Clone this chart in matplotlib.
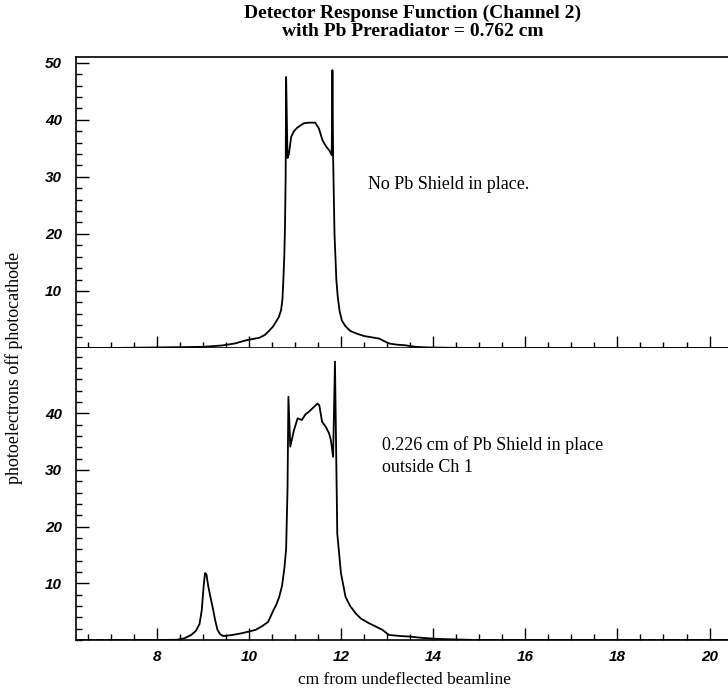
import numpy as np
import matplotlib
matplotlib.use("Agg")
import matplotlib.pyplot as plt
from matplotlib.ticker import MultipleLocator

# top panel: no Pb shield
top_x = [6.25, 7.0, 7.5, 8.0, 8.5, 9.0, 9.43, 9.7, 9.94, 10.1, 10.23, 10.35, 10.45, 10.52,
         10.59, 10.65, 10.7, 10.73, 10.75, 10.77, 10.785, 10.80, 10.81, 10.84, 10.87, 10.92,
         10.98, 11.05, 11.12, 11.2, 11.31, 11.44, 11.52, 11.6, 11.68, 11.75, 11.80, 11.815,
         11.83, 11.86, 11.9, 11.93, 11.97, 12.02, 12.1, 12.2, 12.35, 12.5, 12.65, 12.83,
         13.04, 13.2, 13.4, 13.62, 13.9, 14.3, 15.0, 16.0, 18.0, 20.4]
top_y = [0.0, 0.0, 0.05, 0.1, 0.15, 0.2, 0.45, 0.8, 1.35, 1.6, 1.8, 2.3, 3.1, 3.7,
         4.6, 5.4, 6.6, 8.5, 11.9, 16.0, 21.0, 30.0, 47.5, 33.3, 34.0, 37.0,
         38.0, 38.6, 39.0, 39.4, 39.5, 39.5, 38.5, 36.4, 35.3, 34.6, 33.8, 48.7,
         33.5, 20.0, 12.0, 9.0, 6.5, 4.8, 3.8, 3.0, 2.5, 2.1, 1.9, 1.65,
         0.8, 0.6, 0.47, 0.2, 0.1, 0.05, 0.0, 0.0, 0.0, 0.0]

# bottom panel: 0.226 cm Pb shield
bot_x = [6.25, 7.0, 8.0, 8.45, 8.6, 8.75, 8.85, 8.93, 8.98, 9.02, 9.05, 9.08, 9.12, 9.17,
         9.22, 9.27, 9.32, 9.38, 9.45, 9.65, 9.85, 10.0, 10.15, 10.3, 10.42, 10.52, 10.6,
         10.66, 10.72, 10.77, 10.81, 10.84, 10.86, 10.9, 10.98, 11.06, 11.15, 11.23, 11.31,
         11.4, 11.49, 11.53, 11.59, 11.67, 11.74, 11.78, 11.83, 11.87, 11.92, 12.0, 12.1,
         12.2, 12.32, 12.43, 12.6, 12.75, 12.9, 13.04, 13.3, 13.5, 13.8, 14.1, 14.5, 15.0,
         16.0, 18.0, 20.4]
bot_y = [0.0, 0.0, 0.0, 0.05, 0.3, 0.9, 1.6, 2.8, 5.3, 9.5, 11.8, 11.6, 9.5, 7.5,
         5.6, 3.5, 1.8, 1.0, 0.7, 0.9, 1.2, 1.5, 1.8, 2.5, 3.2, 5.0, 6.3,
         7.6, 9.5, 12.5, 16.0, 26.5, 42.9, 34.1, 37.0, 39.1, 38.8, 39.8, 40.3,
         41.0, 41.7, 41.4, 38.5, 37.6, 36.5, 35.3, 32.3, 49.1, 18.8, 11.8, 7.6,
         6.0, 4.7, 3.8, 3.0, 2.4, 1.8, 0.9, 0.7, 0.6, 0.35, 0.2, 0.1, 0.0,
         0.0, 0.0, 0.0]

top_yticks = [10, 20, 30, 40, 50]
bot_yticks = [10, 20, 30, 40]
xticks = [8, 10, 12, 14, 16, 18, 20]

serif = "Liberation Serif"
tickfont = dict(family="Liberation Sans", style="italic", weight="bold", size=11)

fig = plt.figure(figsize=(7.28, 6.92), dpi=100)
ax1 = fig.add_axes([0.1044, 0.4971, 0.8956, 0.4205])
ax2 = fig.add_axes([0.1044, 0.0751, 0.8956, 0.4220])

ax1.plot(top_x, top_y, color="black", lw=1.3)
ax2.plot(bot_x, bot_y, color="black", lw=1.3)

for ax in (ax1, ax2):
    ax.set_xlim(6.25, 20.4)
    ax.spines["right"].set_visible(False)
    ax.xaxis.set_major_locator(MultipleLocator(2))
    ax.xaxis.set_minor_locator(MultipleLocator(0.5))
    ax.yaxis.set_minor_locator(MultipleLocator(2))
    ax.tick_params(which="major", direction="in", length=9, width=1, top=False, right=False)
    ax.tick_params(which="minor", direction="in", length=4.5, width=1, top=False, right=False)
    ax.tick_params(axis="y", pad=10)
    ax.tick_params(axis="x", pad=7)
    for s in ax.spines.values():
        s.set_linewidth(1.2)

ax1.set_ylim(0, 51)
ax2.set_ylim(0, 51.5)
ax1.set_yticks(top_yticks)
ax2.set_yticks(bot_yticks)
ax1.set_yticklabels([str(v) for v in top_yticks], fontdict=tickfont)
ax2.set_yticklabels([str(v) for v in bot_yticks], fontdict=tickfont)
ax1.set_xticks(xticks)
ax2.set_xticks(xticks)
ax1.set_xticklabels([])
ax2.set_xticklabels([str(v) for v in xticks], fontdict=tickfont)
ax2.spines["top"].set_visible(False)

ax1.text(12.59, 28.6, "No Pb Shield in place.", family=serif, fontsize=13, va="center")
ax2.text(12.9, 34.4, "0.226 cm of Pb Shield in place", family=serif, fontsize=13, va="center")
ax2.text(12.9, 30.4, "outside Ch 1", family=serif, fontsize=13, va="center")

fig.text(0.567, 0.981, "Detector Response Function (Channel 2)", family=serif,
         fontweight="bold", fontsize=14, ha="center", va="center")
fig.text(0.567, 0.954, "with Pb Preradiator = 0.762 cm", family=serif,
         fontweight="bold", fontsize=14, ha="center", va="center")
fig.text(0.555, 0.017, "cm from undeflected beamline", family=serif, fontsize=12.5,
         ha="center", va="center")
fig.text(0.02, 0.468, "photoelectrons off photocathode", family=serif, fontsize=13,
         ha="center", va="center", rotation=90)

fig.savefig("out.png", dpi=100)
